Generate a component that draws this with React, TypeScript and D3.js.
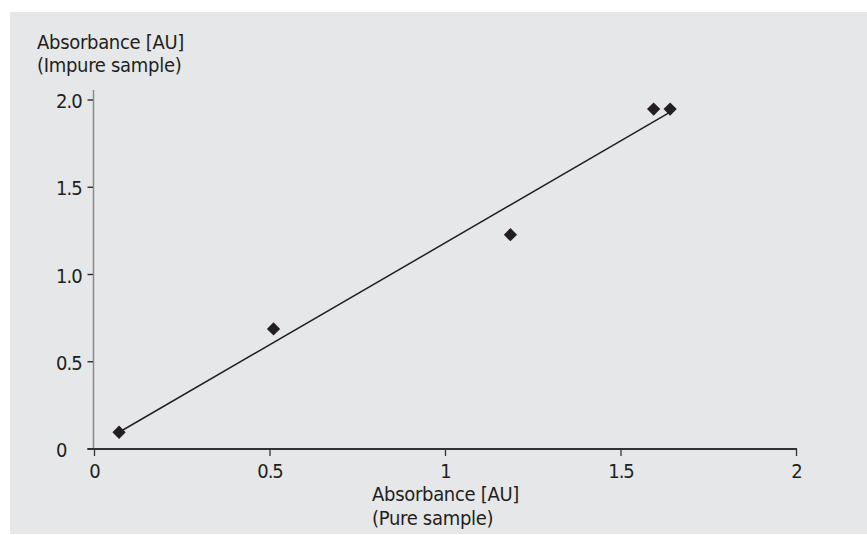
import React from "react";
import * as d3 from "d3";

const xTicks = [0, 0.5, 1, 1.5, 2];
const xTickLabels = ["0", "0.5", "1", "1.5", "2"];
const yTicks = [0, 0.5, 1, 1.5, 2];
const yTickLabels = ["0", "0.5", "1.0", "1.5", "2.0"];

const pureX = [0.07, 0.51, 1.185, 1.593, 1.64];
const impureY = [0.096, 0.688, 1.228, 1.948, 1.948];

const fitX = [0.07, 1.64];
const fitY = [0.096, 1.93];

const yTitle = ["Absorbance [AU]", "(Impure sample)"];
const xTitle = ["Absorbance [AU]", "(Pure sample)"];

const W = 867;
const H = 535;
const INK = "#231f20";
const FONT = "'Liberation Sans Narrow', 'DejaVu Sans Condensed', 'Arial Narrow', sans-serif";

export default function App() {
  const x = d3.scaleLinear().domain([0, 2]).range([94.5, 796.5]);
  const y = d3.scaleLinear().domain([0, 2]).range([449, 100]);

  const fitLine = d3
    .line<number>()
    .x((d) => x(fitX[d]))
    .y((d) => y(fitY[d]));

  const diamond = d3.symbol().type(d3.symbolSquare).size(88)();

  return (
    <svg
      width={W}
      height={H}
      style={{ position: "absolute", left: 0, top: 0, display: "block" }}
      fontFamily={FONT}
    >
      <rect x={0} y={0} width={W} height={H} fill="#ffffff" />
      <rect x={10} y={12} width={W - 10} height={H - 13} fill="#e6e7e8" />

      {/* y axis title */}
      <text x={37} y={49} fontSize={20} fill={INK} letterSpacing={-0.3}>
        {yTitle[0]}
      </text>
      <text x={37} y={72} fontSize={20} fill={INK} letterSpacing={-0.3}>
        {yTitle[1]}
      </text>

      {/* y axis */}
      <line x1={x(0) - 1} x2={x(0) - 1} y1={90} y2={y(0)} stroke="#8a8a8a" strokeWidth={1.5} />
      {yTicks.map((t, i) => (
        <g key={"yt" + i}>
          <line x1={x(0) - 7} x2={x(0) - 1.5} y1={y(t)} y2={y(t)} stroke={INK} strokeWidth={1.3} />
          <text x={56} y={y(t) + 8} fontSize={20} fill={INK} letterSpacing={-1}>
            {yTickLabels[i]}
          </text>
        </g>
      ))}

      {/* x axis */}
      <line x1={x(0) - 7} x2={x(2) + 0.5} y1={y(0)} y2={y(0)} stroke="#333333" strokeWidth={2} />
      {xTicks.map((t, i) => (
        <g key={"xt" + i}>
          <line x1={x(t)} x2={x(t)} y1={y(0)} y2={y(0) + 7} stroke="#333333" strokeWidth={1.3} />
          <text x={x(t)} y={478} fontSize={20} fill={INK} textAnchor="middle" letterSpacing={-1}>
            {xTickLabels[i]}
          </text>
        </g>
      ))}

      {/* x axis title */}
      <text x={372} y={501} fontSize={20} fill={INK} letterSpacing={-0.3}>
        {xTitle[0]}
      </text>
      <text x={372} y={525} fontSize={20} fill={INK} letterSpacing={-0.3}>
        {xTitle[1]}
      </text>

      {/* fit line */}
      <path d={fitLine(d3.range(fitX.length)) || ""} fill="none" stroke={INK} strokeWidth={1.5} />

      {/* points */}
      {pureX.map((px, i) => (
        <path
          key={"p" + i}
          d={diamond || ""}
          transform={`translate(${x(px)},${y(impureY[i])}) rotate(45)`}
          fill={INK}
        />
      ))}
    </svg>
  );
}
